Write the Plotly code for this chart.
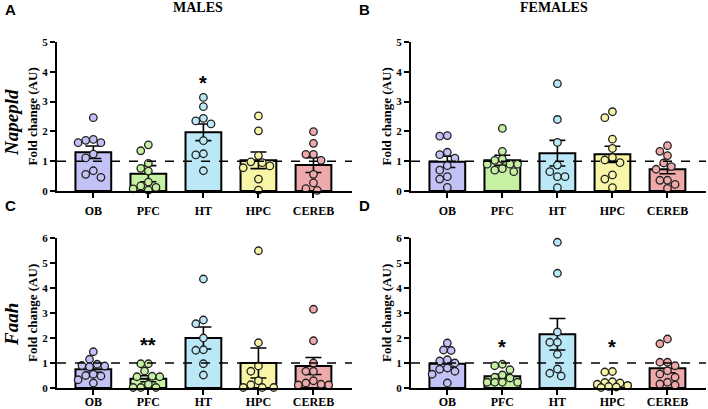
import plotly.graph_objects as go

regions = ["OB", "PFC", "HT", "HPC", "CEREB"]
fills = ["#c2c2f7", "#c6f0a2", "#bae8f7", "#f8f6a6", "#eeaaaa"]

# panel A - Napepld males
napepld_m_mean = [1.30, 0.58, 1.97, 1.03, 0.87]
napepld_m_sem = [0.21, 0.27, 0.28, 0.28, 0.25]
napepld_m_pts = [
    [2.46, 1.73, 1.70, 1.62, 1.62, 1.24, 1.11, 0.68, 0.56, 0.46],
    [1.55, 1.35, 0.93, 0.76, 0.67, 0.30, 0.17, 0.12, 0.07, 0.03],
    [3.14, 2.83, 2.44, 2.35, 2.25, 1.69, 1.25, 1.21, 0.68],
    [2.52, 2.02, 1.19, 0.98, 0.95, 0.84, 0.78, 0.40, 0.03],
    [1.99, 1.60, 1.23, 1.23, 1.03, 0.56, 0.27, 0.08, 0.02],
]
# panel B - Napepld females
napepld_f_mean = [0.98, 1.03, 1.27, 1.23, 0.73]
napepld_f_sem = [0.19, 0.17, 0.43, 0.27, 0.15]
napepld_f_pts = [
    [1.86, 1.84, 1.30, 1.22, 1.10, 0.85, 0.70, 0.48, 0.40, 0.12],
    [2.10, 1.33, 1.07, 1.03, 0.90, 0.90, 0.90, 0.75, 0.70, 0.65],
    [3.60, 2.40, 1.63, 0.87, 0.65, 0.48, 0.48, 0.11],
    [2.66, 2.46, 1.74, 1.43, 1.12, 1.04, 0.95, 0.54, 0.40, 0.11],
    [1.52, 1.33, 1.19, 0.94, 0.82, 0.73, 0.36, 0.36, 0.22, 0.09],
]
# panel C - Faah males
faah_m_mean = [0.75, 0.37, 2.00, 1.00, 0.88]
faah_m_sem = [0.12, 0.12, 0.44, 0.60, 0.34]
faah_m_pts = [
    [1.45, 1.15, 0.95, 0.90, 0.88, 0.85, 0.55, 0.50, 0.48, 0.33, 0.20],
    [0.97, 0.97, 0.68, 0.47, 0.45, 0.45, 0.15, 0.02, 0.02, 0.02],
    [4.36, 2.72, 2.57, 2.00, 1.53, 1.51, 0.97, 0.52],
    [5.49, 1.81, 0.88, 0.67, 0.29, 0.13, 0.02, 0.02, 0.02],
    [3.15, 1.89, 1.00, 0.67, 0.67, 0.29, 0.20, 0.15, 0.12, 0.12],
]
# panel D - Faah females
faah_f_mean = [0.97, 0.47, 2.15, 0.19, 0.79]
faah_f_sem = [0.14, 0.08, 0.63, 0.08, 0.18]
faah_f_pts = [
    [1.80, 1.52, 1.50, 1.13, 1.08, 1.00, 0.80, 0.75, 0.67, 0.55, 0.20],
    [0.95, 0.89, 0.73, 0.52, 0.43, 0.40, 0.23, 0.23, 0.23, 0.23],
    [5.83, 4.59, 2.24, 1.83, 1.83, 1.35, 0.76, 0.59, 0.48],
    [0.66, 0.64, 0.25, 0.22, 0.20, 0.15, 0.10, 0.06, 0.04, 0.02],
    [1.96, 1.77, 1.03, 1.03, 0.89, 0.69, 0.56, 0.43, 0.23, 0.16, 0.12],
]

# significance marks: (panel, region index, text, y)
sig_marks = [
    ("A", 2, "*", 3.76),
    ("C", 1, "**", 1.87),
    ("D", 1, "*", 1.79),
    ("D", 3, "*", 1.79),
]

W, H = 708, 409
SERIF = "Liberation Serif, Times New Roman, serif"
SANS = "Liberation Sans, Arial, sans-serif"
XR = [-0.66, 4.7]

panels = {
    "A": dict(mean=napepld_m_mean, sem=napepld_m_sem, pts=napepld_m_pts, x0=57, x1=352, ytop=42, ybot=191, ymax=5, lab=3),
    "B": dict(mean=napepld_f_mean, sem=napepld_f_sem, pts=napepld_f_pts, x0=411, x1=706, ytop=42, ybot=191, ymax=5, lab=3),
    "C": dict(mean=faah_m_mean, sem=faah_m_sem, pts=faah_m_pts, x0=57, x1=352, ytop=238, ybot=388, ymax=6, lab=-3),
    "D": dict(mean=faah_f_mean, sem=faah_f_sem, pts=faah_f_pts, x0=411, x1=706, ytop=238, ybot=388, ymax=6, lab=-3),
}


def swarm(vals, pxx, pxy, gap=7.6):
    # simple beeswarm: spread close points sideways, at most 2 steps out
    placed = []
    order = sorted(range(len(vals)), key=lambda i: -vals[i])
    offs = [0.0] * len(vals)
    cands = [0]
    for k in range(1, 5):
        cands += [-k * 0.5, k * 0.5]
    for i in order:
        y = vals[i] * pxy
        best, best_d = 0, -1
        for c in cands:
            ox = c * gap
            d = min([((ox - px) ** 2 + (y - py) ** 2) ** 0.5 for (px, py) in placed] or [99])
            if d >= gap:
                best = ox
                break
            if d > best_d + 0.5:
                best, best_d = ox, d
        offs[i] = best / pxx
        placed.append((best, y))
    return offs


def note(text, x, y, font, **kw):
    d = dict(text=text, xref="paper", yref="paper", x=x / W, y=1 - y / H, showarrow=False,
             xanchor="center", yanchor="middle", font=font)
    d.update(kw)
    return d


fig = go.Figure()
layout = dict(width=W, height=H, margin=dict(l=0, r=0, t=0, b=0, autoexpand=False),
              paper_bgcolor="white", plot_bgcolor="white", showlegend=False)
shapes = []
annotations = []

for n, (key, p) in enumerate(panels.items()):
    sfx = "" if n == 0 else str(n + 1)
    xa, ya = "x" + sfx, "y" + sfx
    pxx = (p["x1"] - p["x0"]) / (XR[1] - XR[0])
    pxy = (p["ybot"] - p["ytop"]) / p["ymax"]

    fig.add_trace(go.Bar(
        x=list(range(5)), y=p["mean"], width=0.65, xaxis=xa, yaxis=ya,
        marker=dict(color=fills, line=dict(color="black", width=2)),
        error_y=dict(type="data", array=p["sem"], color="black", thickness=1.6, width=8),
    ))
    for i, vals in enumerate(p["pts"]):
        offs = swarm(vals, pxx, pxy)
        fig.add_trace(go.Scatter(
            x=[i + o for o in offs], y=vals, mode="markers", xaxis=xa, yaxis=ya,
            cliponaxis=False,
            marker=dict(size=7.5, color=fills[i], line=dict(color="#222222", width=1.3)),
        ))

    layout["xaxis" + sfx] = dict(
        domain=[p["x0"] / W, p["x1"] / W], range=XR, anchor=ya,
        tickvals=list(range(5)), ticktext=regions,
        showline=True, linecolor="black", linewidth=2, ticks="outside",
        ticklen=5, tickwidth=2, tickcolor="black", showgrid=False, zeroline=False,
        tickfont=dict(family=SERIF, size=12, color="black", weight="bold"),
        ticklabelstandoff=p["lab"],
    )
    layout["yaxis" + sfx] = dict(
        domain=[1 - p["ybot"] / H, 1 - p["ytop"] / H], range=[0, p["ymax"]], anchor=xa,
        tickvals=list(range(p["ymax"] + 1)),
        showline=True, linecolor="black", linewidth=2, ticks="outside",
        ticklen=5, tickwidth=2, tickcolor="black", showgrid=False, zeroline=False,
        tickfont=dict(family=SERIF, size=11, color="black", weight="bold"),
    )
    shapes.append(dict(type="line", xref=xa + " domain", yref=ya, x0=0, x1=1, y0=1, y1=1,
                       line=dict(color="black", width=1.5, dash="dash"), layer="above"))
    # y axis title
    annotations.append(note("Fold change (AU)", p["x0"] - 25, (p["ytop"] + p["ybot"]) / 2,
                            dict(family=SERIF, size=13, color="black", weight="bold"), textangle=-90))
    # panel letter
    annotations.append(note(key, p["x0"] - 47, p["ytop"] - 33,
                            dict(family=SANS, size=15, color="black", weight="bold")))
    for (pk, ri, txt, yv) in sig_marks:
        if pk == key:
            annotations.append(dict(
                text=txt, xref=xa, yref=ya, x=ri, y=yv, showarrow=False,
                xanchor="center", yanchor="middle",
                yshift=-4, font=dict(family=SANS, size=20, color="black", weight="bold"),
            ))

title_font = dict(family=SERIF, size=14, color="black", weight="bold")
gene_font = dict(family=SERIF, size=19, color="black", weight="bold", style="italic")
annotations.append(note("MALES", 198, 8, title_font))
annotations.append(note("FEMALES", 554, 8, title_font))
annotations.append(note("Napepld", 11, 123, gene_font, textangle=-90))
annotations.append(note("Faah", 11, 325, gene_font, textangle=-90))

layout["shapes"] = shapes
layout["annotations"] = annotations
fig.update_layout(**layout)

# drop the browser's default 8px body margin so the figure sits at the window corner
fig.write_html("out.html", config={"displayModeBar": False},
               post_script="document.body.style.margin='0px';")
